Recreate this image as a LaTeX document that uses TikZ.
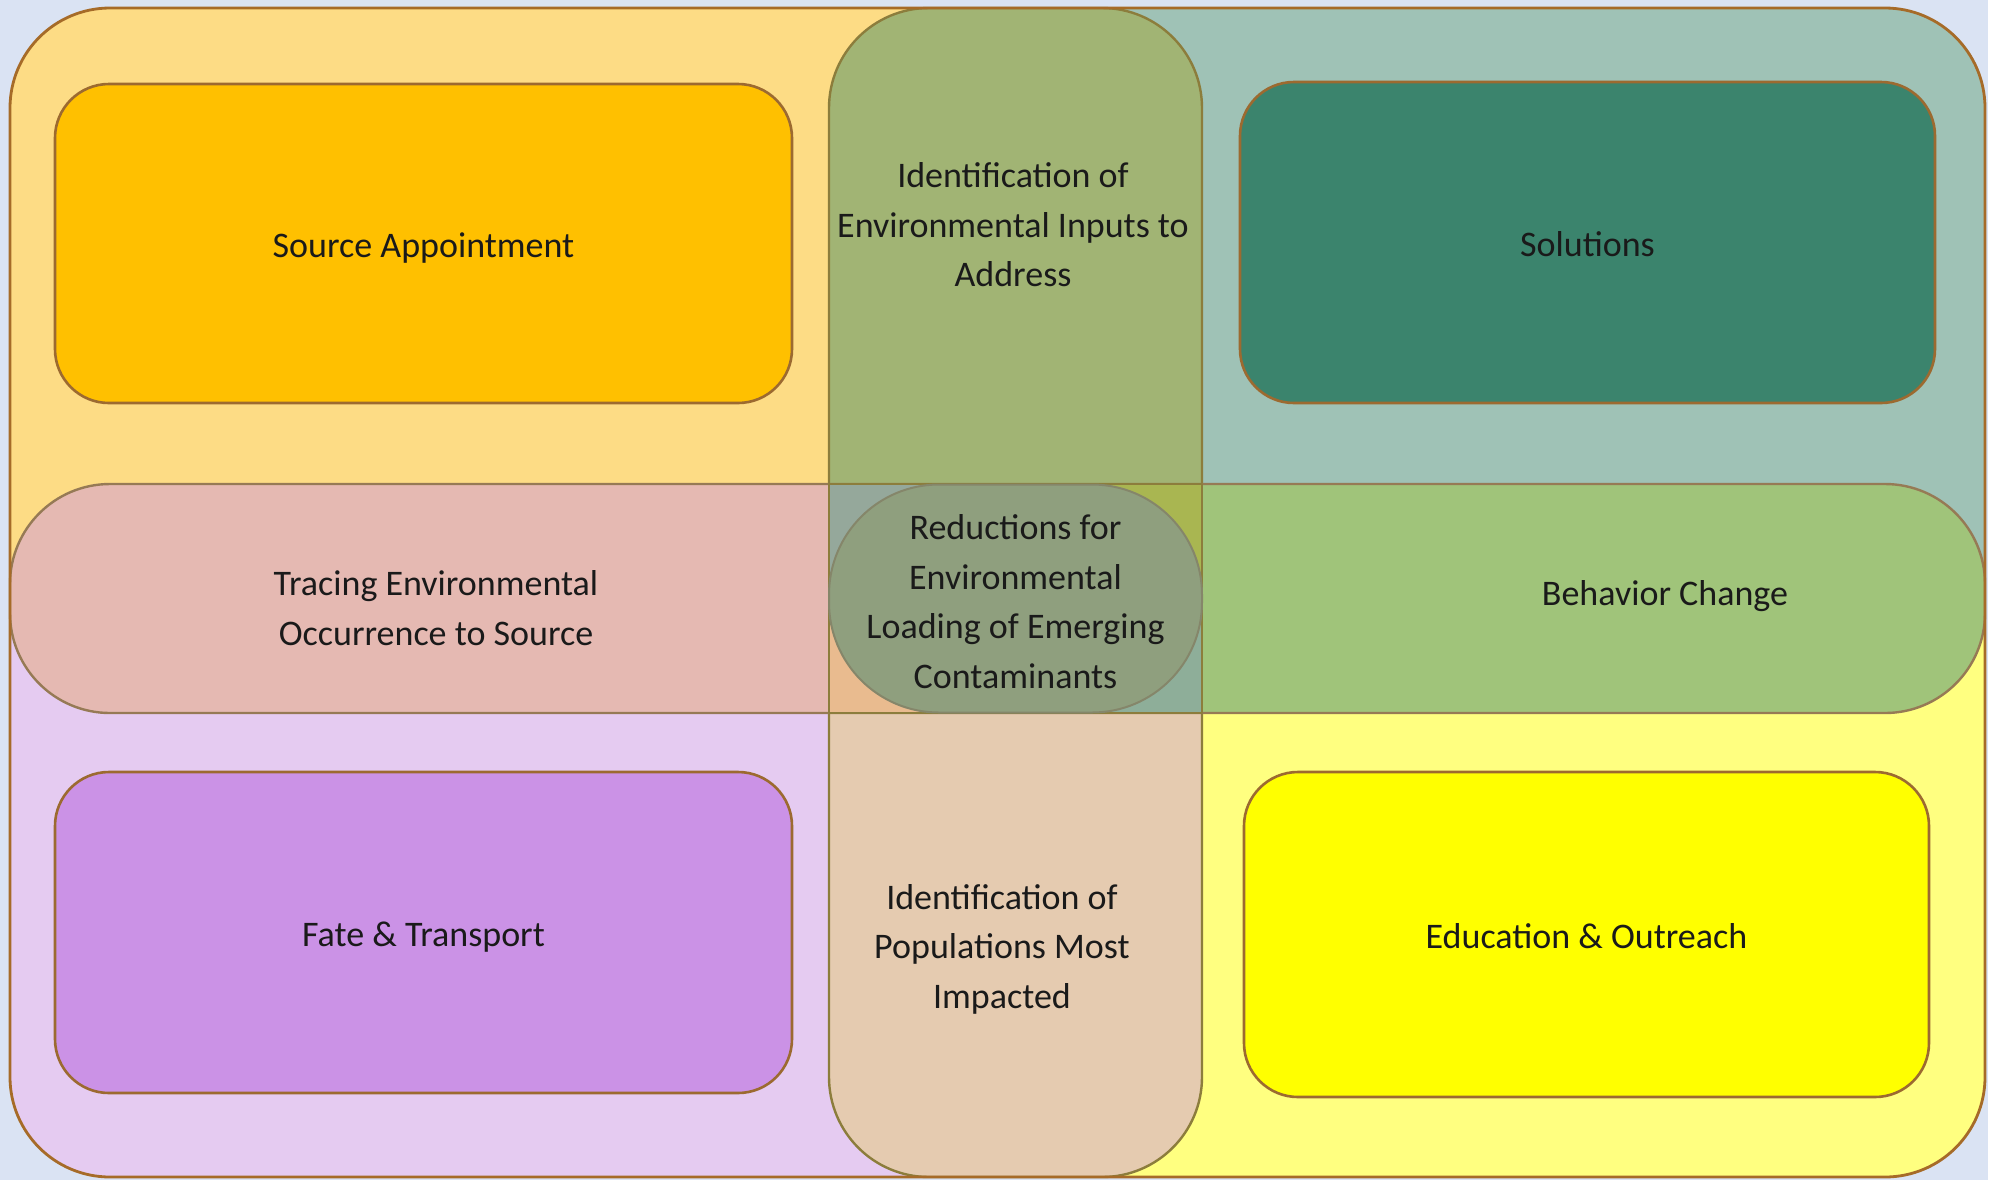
\documentclass[tikz,border=0pt]{standalone}
\usepackage{fontspec}
\setmainfont{Carlito}
\definecolor{bgblue}{HTML}{DAE3F3}
\definecolor{frame}{HTML}{A66B28}
\definecolor{qTL}{HTML}{FDDC85}
\definecolor{qTR}{HTML}{9FC2B6}
\definecolor{qBL}{HTML}{E5CBF1}
\definecolor{qBR}{HTML}{FFFF80}
\definecolor{vTop}{HTML}{A1B474}
\definecolor{vBot}{HTML}{E5CBB0}
\definecolor{hLeft}{HTML}{E5B9B2}
\definecolor{hRight}{HTML}{A0C47A}
\definecolor{cTL}{HTML}{95A89B}
\definecolor{cTR}{HTML}{A9B651}
\definecolor{cBL}{HTML}{E9BB8F}
\definecolor{cBR}{HTML}{8EAE99}
\definecolor{pillfill}{HTML}{8F9F7E}
\definecolor{pillline}{HTML}{85866A}
\definecolor{boxline}{HTML}{9C6A30}
\definecolor{srcfill}{HTML}{FFC000}
\definecolor{solfill}{HTML}{3B846D}
\definecolor{fatefill}{HTML}{CB92E6}
\definecolor{edufill}{HTML}{FFFF00}
\definecolor{vline}{HTML}{8C7D3C}
\definecolor{hline}{HTML}{967A55}
\definecolor{txt}{HTML}{1A1A1A}
\begin{document}
\begin{tikzpicture}[x=0.5pt,y=-0.5pt,line join=round,
  lbl/.style={font=\fontsize{18}{24.8}\selectfont, text=txt, align=center, inner sep=0pt},
  box/.style={lbl, draw=boxline, line width=1.3pt, rounded corners=27pt, text height=17.5pt, text depth=4pt},
  bandline/.style={line width=1.2pt, rounded corners=50pt}]
\fill[bgblue] (0,0) rectangle (1993,1180);
\useasboundingbox (0,0) rectangle (1993,1180);
\fill[white] (1988,0) rectangle (1993,1180);
% quadrants
\begin{scope}
\clip[rounded corners=50pt] (10,8) rectangle (1985,1177);
\fill[qTL] (10,8) rectangle (1015,598);
\fill[qTR] (1015,8) rectangle (1985,598);
\fill[qBL] (10,598) rectangle (1015,1177);
\fill[qBR] (1015,598) rectangle (1985,1177);
\end{scope}
% vertical band
\begin{scope}
\clip[rounded corners=50pt] (829,8) rectangle (1202,1177);
\fill[vTop] (829,8) rectangle (1202,598);
\fill[vBot] (829,598) rectangle (1202,1177);
\end{scope}
\draw[bandline, draw=vline] (829,8) rectangle (1202,1177);
% horizontal band
\begin{scope}
\clip[rounded corners=50pt] (10,484) rectangle (1985,713);
\fill[hLeft] (10,484) rectangle (1015,713);
\fill[hRight] (1015,484) rectangle (1985,713);
\end{scope}
\draw[bandline, draw=hline] (10,484) rectangle (1985,713);
% intersection
\fill[cTL] (829,484) rectangle (1015,598);
\fill[cTR] (1015,484) rectangle (1202,598);
\fill[cBL] (829,598) rectangle (1015,713);
\fill[cBR] (1015,598) rectangle (1202,713);
\draw[line width=1.3pt, draw=vline] (829,484) rectangle (1202,713);
% outer frame
\draw[line width=1.4pt, draw=frame, rounded corners=50pt] (10,8) rectangle (1985,1177);
% centre pill
\node[draw=pillline, line width=1pt, fill=pillfill, rounded corners=55pt,
      minimum width=186.5pt, minimum height=114pt, inner sep=0pt] (pill) at (1015.5,598.5) {};
\node[lbl] (red) at (1015.5,601.5)
  {Reductions for\\Environmental\\Loading of Emerging\\Contaminants};
% boxes
\node[box, fill=srcfill, minimum width=368.5pt, minimum height=159.5pt] (src) at (423.5,243.5) {Source Appointment};
\node[box, fill=solfill, minimum width=347.5pt, minimum height=160.5pt] (sol) at (1587.5,242.5) {Solutions};
\node[box, fill=fatefill, minimum width=368.5pt, minimum height=160.5pt] (fate) at (423.5,932.5) {Fate \& Transport};
\node[box, fill=edufill, minimum width=342.5pt, minimum height=162.5pt] (edu) at (1586.5,934.5) {Education \& Outreach};
% band labels
\node[lbl] (inputs) at (1013,225) {Identification of\\Environmental Inputs to\\Address};
\node[lbl] (tracing) at (436,608) {Tracing Environmental\\Occurrence to Source};
\node[lbl] (behav) at (1665,596) {Behavior Change};
\node[lbl] (pops) at (1002,949) {Identification of\\Populations Most\\Impacted};
\end{tikzpicture}
\end{document}
